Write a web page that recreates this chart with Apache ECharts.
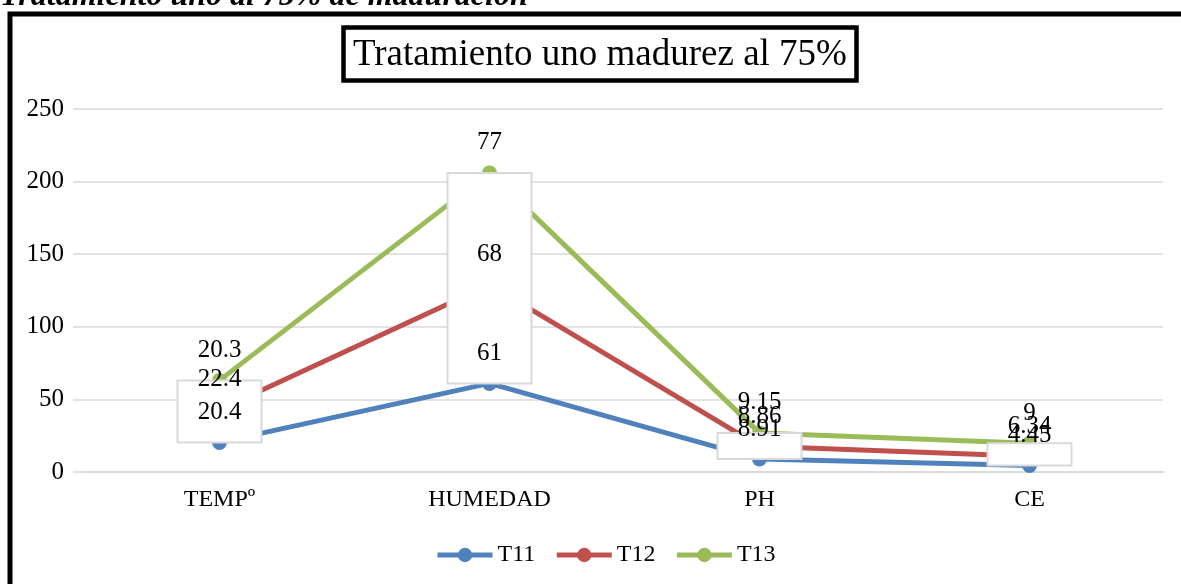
<!DOCTYPE html>
<html>
<head>
<meta charset="utf-8">
<script src="https://cdn.jsdelivr.net/npm/echarts@6/dist/echarts.min.js"></script>
<style>
  html, body { margin:0; padding:0; background:#fff; }
  #main { width:1181px; height:584px; }
</style>
</head>
<body>
<div id="main"></div>
<script>
// datos del tratamiento uno (madurez 75%)
var categorias = ['TEMPº', 'HUMEDAD', 'PH', 'CE'];
var T11 = [20.4, 61, 8.91, 4.45];
var T12 = [22.4, 68, 8.86, 6.34];
var T13 = [20.3, 77, 9.15, 9];
var nombres = ['T11', 'T12', 'T13'];
var colores = ['#4F81BD', '#C0504D', '#9BBB59'];

var FONT = '"Liberation Serif", "Times New Roman", serif';
var series = [T11, T12, T13];

// acumulados para ubicar las etiquetas
var acum = [];
var base = [0, 0, 0, 0];
series.forEach(function(s){
  var fila = [];
  for (var i = 0; i < s.length; i++) {
    base[i] += s[i];
    fila.push([i, base[i]]);
  }
  acum.push(fila);
});

// barras arriba/abajo (de T11 al total)
var barras = [];
for (var i = 0; i < categorias.length; i++) {
  barras.push([i, T11[i], acum[2][i][1]]);
}

var myChart = echarts.init(document.getElementById('main'));

var lineas = series.map(function(s, k){
  return {
    name: nombres[k],
    type: 'line',
    stack: 'total',
    xAxisIndex: 1,
    yAxisIndex: 1,
    data: s,
    symbol: 'circle',
    symbolSize: 15,
    z: 2,
    itemStyle: { color: colores[k], opacity: 1 },
    lineStyle: { color: colores[k], width: 5 },
    emphasis: { disabled: true }
  };
});

var etiquetas = series.map(function(s, k){
  return {
    type: 'scatter',
    xAxisIndex: 1,
    yAxisIndex: 1,
    data: acum[k],
    symbolSize: 0,
    z: 4,
    silent: true,
    itemStyle: { opacity: 1 },
    label: {
      show: true,
      position: 'inside',
      offset: [0, -30],
      color: '#000',
      fontFamily: FONT,
      fontSize: 25,
      formatter: function(p){ return s[p.dataIndex]; }
    }
  };
});

myChart.setOption({
  backgroundColor: '#fff',
  animation: false,
  title: {
    text: 'Tratamiento uno madurez al 75%',
    left: 343,
    top: 27,
    padding: [10, 10, 7, 10],
    borderColor: '#000',
    borderWidth: 4.5,
    textStyle: { fontFamily: FONT, fontSize: 37, fontWeight: 'normal', color: '#000' }
  },
  graphic: [
    {
      type: 'rect',
      shape: { x: 10, y: 14, width: 1400, height: 800 },
      style: { fill: 'none', stroke: '#000', lineWidth: 5 },
      z: 0
    },
    {
      type: 'text',
      x: 0,
      y: 13,
      style: {
        text: 'Tratamiento uno al 75% de maduración',
        font: 'italic bold 32px "Liberation Serif", serif',
        fill: '#000',
        verticalAlign: 'bottom'
      }
    }
  ],
  legend: {
    left: 430,
    top: 538,
    itemWidth: 55,
    itemHeight: 18,
    itemGap: 19,
    data: nombres,
    lineStyle: { width: 5 },
    textStyle: { fontFamily: FONT, fontSize: 24, color: '#000' }
  },
  grid: [
    { left: 73, right: 18, top: 109, bottom: 112 },
    { left: 84.5, right: 16.5, top: 109, bottom: 112 }
  ],
  xAxis: [
    { type: 'value', gridIndex: 0, show: false, min: 0, max: 1 },
    {
      type: 'category',
      gridIndex: 1,
      data: categorias,
      boundaryGap: true,
      axisLine: { lineStyle: { color: '#d9d9d9', width: 1.5 } },
      axisTick: { show: false },
      axisLabel: { color: '#000', fontFamily: FONT, fontSize: 24, margin: 16 }
    }
  ],
  yAxis: [
    {
      type: 'value',
      gridIndex: 0,
      min: 0,
      max: 250,
      interval: 50,
      axisLine: { show: false },
      axisTick: { show: false },
      splitLine: { lineStyle: { color: '#d9d9d9', width: 1.5 } },
      axisLabel: { color: '#000', fontFamily: FONT, fontSize: 25, margin: 9 }
    },
    {
      type: 'value',
      gridIndex: 1,
      min: 0,
      max: 250,
      interval: 50,
      show: false,
      splitLine: { show: false }
    }
  ],
  series: lineas.concat([{
    type: 'custom',
    xAxisIndex: 1,
    yAxisIndex: 1,
    z: 3,
    silent: true,
    data: barras,
    encode: { x: 0, y: [1, 2] },
    renderItem: function(params, api){
      var p1 = api.coord([api.value(0), api.value(1)]);
      var p2 = api.coord([api.value(0), api.value(2)]);
      var w = 84;
      return {
        type: 'rect',
        shape: { x: p1[0] - w / 2, y: p2[1], width: w, height: p1[1] - p2[1] },
        style: { fill: '#fff', stroke: '#d9d9d9', lineWidth: 2 }
      };
    }
  }]).concat(etiquetas)
});
</script>
</body>
</html>
